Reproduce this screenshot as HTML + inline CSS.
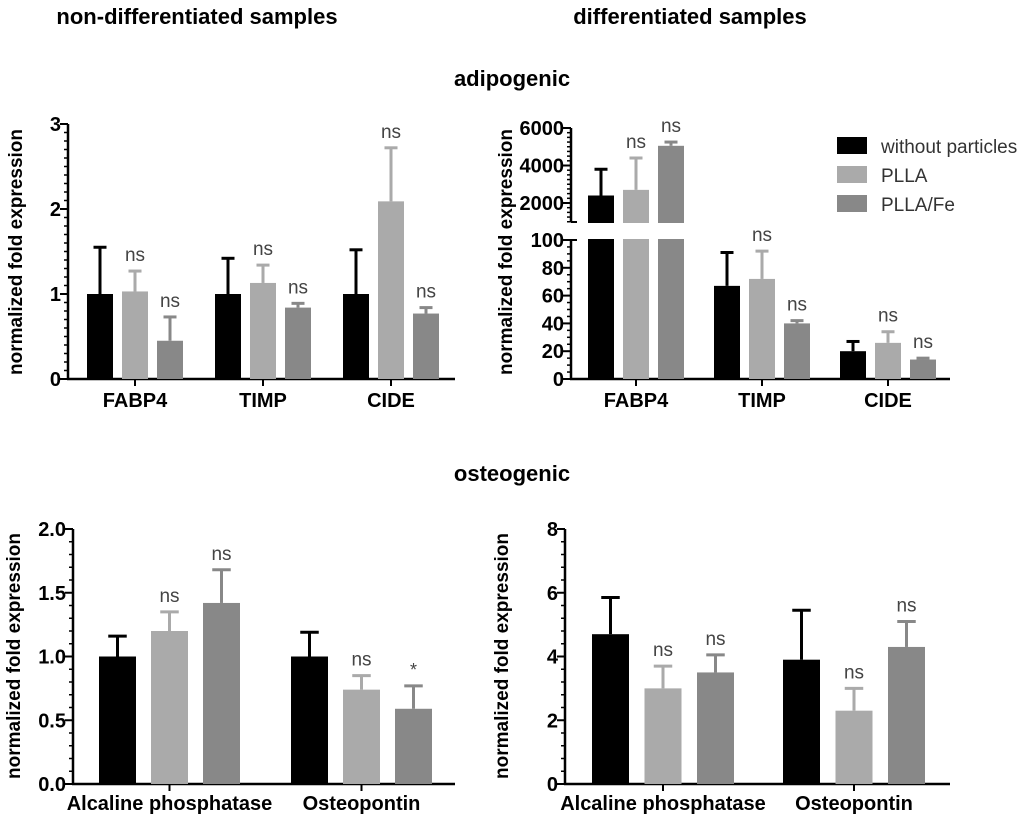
<!DOCTYPE html>
<html><head><meta charset="utf-8"><style>
body{margin:0;background:#fff}
svg{display:block;font-family:"Liberation Sans",Arial,sans-serif}
.b{font-weight:bold}
</style></head><body>
<svg id="c" width="1024" height="817" viewBox="0 0 1024 817">
<text x="197" y="24" text-anchor="middle" class="b" font-size="22">non-differentiated samples</text>
<text x="690" y="24" text-anchor="middle" class="b" font-size="22">differentiated samples</text>
<text x="512" y="86" text-anchor="middle" class="b" font-size="22">adipogenic</text>
<text x="512" y="481" text-anchor="middle" class="b" font-size="22">osteogenic</text>
<g>
<rect x="837" y="137" width="30" height="17" fill="#000"/>
<text x="881" y="153" font-size="19" fill="#333">without particles</text>
<rect x="837" y="166" width="30" height="17" fill="#aaa"/>
<text x="881" y="182" font-size="19" fill="#333">PLLA</text>
<rect x="837" y="195" width="30" height="17" fill="#888"/>
<text x="881" y="211" font-size="19" fill="#333">PLLA/Fe</text>
</g>
</svg>
<script>
const catsAdipo = ["FABP4","TIMP","CIDE"];
const catsOsteo = ["Alcaline phosphatase","Osteopontin"];
const seriesColors = ["#000","#aaa","#888"];
// top-left
const tlVals = [[1,1.03,0.45],[1,1.13,0.84],[1,2.09,0.77]];
const tlErr = [[1.55,1.27,0.73],[1.42,1.34,0.89],[1.52,2.72,0.84]];
const tlSig = [["","ns","ns"],["","ns","ns"],["","ns","ns"]];
const tlTicks = [0,1,2,3];
// top-right (broken axis)
const trVals = [[2400,2700,5050],[67,72,40],[20,26,14]];
const trErr = [[3800,4400,5250],[91,92,42],[27,34,15]];
const trSig = [["","ns","ns"],["","ns","ns"],["","ns","ns"]];
const trTicksLow = [0,20,40,60,80,100];
const trTicksHigh = [2000,4000,6000];
// bottom-left
const blVals = [[1,1.2,1.42],[1,0.74,0.59]];
const blErr = [[1.16,1.35,1.68],[1.19,0.85,0.77]];
const blSig = [["","ns","ns"],["","ns","*"]];
const blTicks = ["0.0","0.5","1.0","1.5","2.0"];
// bottom-right
const brVals = [[4.7,3.0,3.5],[3.9,2.3,4.3]];
const brErr = [[5.85,3.7,4.05],[5.45,3.0,5.1]];
const brSig = [["","ns","ns"],["","ns","ns"]];
const brTicks = [0,2,4,6,8];

const svg=document.getElementById('c');
const NS='http://www.w3.org/2000/svg';
function mk(tag,attrs,name,parent){
  const e=document.createElementNS(NS,tag);
  for(const k in attrs)e.setAttribute(k,attrs[k]);
  
  
  (parent||svg).appendChild(e);return e;
}
function line(x1,y1,x2,y2,c,w,name){return mk('line',{x1,y1,x2,y2,stroke:c,'stroke-width':w},name);}
function txt(x,y,s,opts,name){const t=mk('text',Object.assign({x,y},opts),name);t.textContent=s;return t;}
const TICKFS=20, LBLFS=20, SIGFS=19, YTFS=19;

function panel(p){
  const {ax,y0,y1,xEnd,vmax,cats,vals,errs,sig,ticks,minor,g0,gs,bs,bw,lblY,ytitle,scale,name}=p;
  const Y=scale||(v=>y0-(v/vmax)*(y0-y1));
  if(!p.noAxis){line(ax,y1,ax,y0+1,'#000',2.5,name+'-y-axis');}
  line(ax-1,y0,xEnd,y0,'#000',2.5,name+'-x-axis');
  if(!p.noTicks){
    for(let v=0;v<=vmax+1e-9;v+=minor){line(ax-4,Y(v),ax,Y(v),'#000',1.5,name+'-minor-tick');}
    ticks.forEach(t=>{const v=parseFloat(t);line(ax-8,Y(v),ax,Y(v),'#000',2,name+'-major-tick');
      txt(ax-7,Y(v)+7,String(t),{'text-anchor':'end','font-size':TICKFS,'font-weight':'bold'},name+'-y-tick-label');});
  }
  txt(ytitle[0],ytitle[1],'normalized fold expression',{'text-anchor':'middle','font-size':YTFS,'font-weight':'bold',transform:`rotate(-90 ${ytitle[0]} ${ytitle[1]})`},name+'-y-axis-title');
  cats.forEach((c,i)=>{
    const gx=g0+i*gs;
    const cx=gx+bs+bw/2;
    line(cx,y0,cx,y0+7,'#000',2,name+'-x-tick');
    txt(cx,lblY,c,{'text-anchor':'middle','font-size':LBLFS,'font-weight':'bold'},name+'-x-label-'+i);
    vals[i].forEach((v,j)=>{
      const x=gx+j*bs, col=seriesColors[j];
      const top=p.barTop?p.barTop(v):Y(v);
      const et=p.barTop?p.barTop(errs[i][j]):Y(errs[i][j]);
      line(x+bw/2,top,x+bw/2,et,col,3,name+'-error-bar');
      line(x+bw/4,et,x+bw*3/4,et,col,3,name+'-error-cap');
      mk('rect',{x,y:top,width:bw,height:y0-top,fill:col},name+'-bar-'+i+'-'+j);
      if(p.breakFn&&p.breakFn(v)){mk('rect',{x:x-2,y:p.gapTop,width:bw+4,height:p.gapBot-p.gapTop,fill:'#fff'},name+'-bar-break');}
      if(sig[i][j])txt(x+bw/2,et-10,sig[i][j],{'text-anchor':'middle','font-size':sig[i][j]=='*'?18:SIGFS,fill:'#444'},name+'-sig-label');
    });
  });
}
panel({name:'tl',ax:68,y0:379,y1:124,xEnd:455,vmax:3,cats:catsAdipo,vals:tlVals,errs:tlErr,sig:tlSig,ticks:tlTicks,minor:0.1,g0:87,gs:128,bs:35,bw:26,lblY:407,ytitle:[22,252]});
panel({name:'bl',ax:73,y0:784,y1:529,xEnd:455,vmax:2,cats:catsOsteo,vals:blVals,errs:blErr,sig:blSig,ticks:blTicks,minor:0.1,g0:99,gs:192,bs:52,bw:37,lblY:810,ytitle:[20,656]});
panel({name:'br',ax:565,y0:784,y1:529,xEnd:950,vmax:8,cats:catsOsteo,vals:brVals,errs:brErr,sig:brSig,ticks:brTicks,minor:0.4,g0:592,gs:191,bs:52.5,bw:37,lblY:810,ytitle:[508,656]});
const yLow=v=>379-v/100*139;
const yHigh=v=>128+(6000-v)*0.01875;
const trTop=v=>v>100?yHigh(v):yLow(v);
panel({name:'tr',ax:571,y0:379,y1:240,xEnd:950,vmax:100,cats:catsAdipo,vals:trVals,errs:trErr,sig:trSig,ticks:[],minor:100,g0:588,gs:126,bs:35,bw:26,lblY:407,ytitle:[512,252],noAxis:true,noTicks:true,barTop:trTop,breakFn:v=>v>100,gapTop:223,gapBot:239});
line(571,240,571,380,'#000',2.5,'tr-y-axis-low');
line(571,128,571,222,'#000',2.5,'tr-y-axis-high');
line(571,222,577,222,'#000',2,'tr-break-mark');
line(571,240,577,240,'#000',2,'tr-break-mark');
for(let v=0;v<=100;v+=5){line(567,yLow(v),571,yLow(v),'#000',1.5,'tr-minor-tick');}
for(let v=1000;v<=6000;v+=250){line(567,yHigh(v),571,yHigh(v),'#000',1.5,'tr-minor-tick');}
trTicksLow.forEach(v=>{line(563,yLow(v),571,yLow(v),'#000',2,'tr-major-tick');
  txt(564,yLow(v)+7,String(v),{'text-anchor':'end','font-size':TICKFS,'font-weight':'bold'},'tr-y-tick-label');});
trTicksHigh.forEach(v=>{line(563,yHigh(v),571,yHigh(v),'#000',2,'tr-major-tick');
  txt(564,yHigh(v)+7,String(v),{'text-anchor':'end','font-size':TICKFS,'font-weight':'bold'},'tr-y-tick-label');});
</script>
</body></html>
